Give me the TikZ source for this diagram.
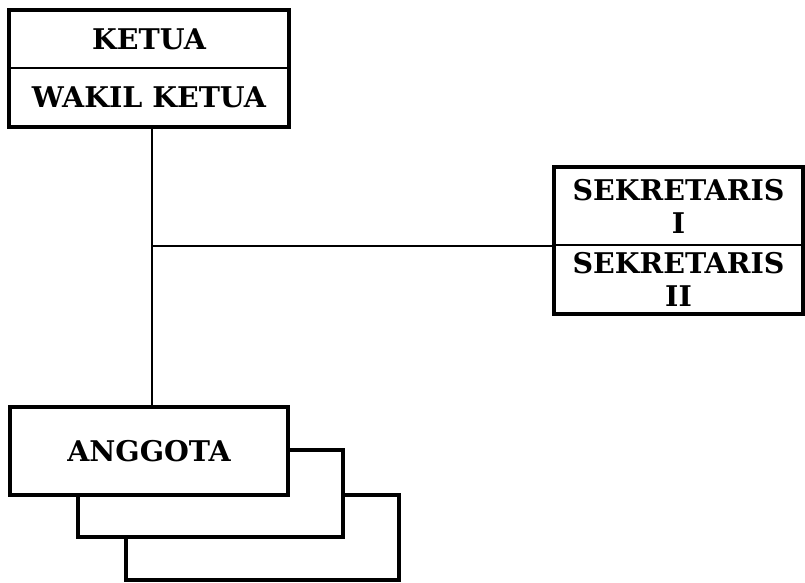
\documentclass[tikz,border=0pt]{standalone}
\usepackage{fontspec}
\setmainfont{DejaVu Serif}
\usepackage{tikz}
\tikzstyle{postBox}=[shape = rectangle, draw, line width = 2.4pt, inner sep = 0pt, font = \fontsize{28.5}{33}\selectfont\bfseries, align = center]
\tikzstyle{outerBox}=[draw, line width = 3.4pt]

\begin{document}
\begin{tikzpicture}[x = 1pt, y = -1pt]
\tikzstyle{memberBox}=[shape = rectangle, draw, line width = 3.4pt, fill = white, inner sep = 0pt]
\tikzstyle{linkStyle}=[draw, line width = 2.4pt]
\useasboundingbox (0,0) rectangle (805,582);
% ketua
\node[postBox, minimum width = 278pt, minimum height = 57pt] (ketua) at (149,39.5) {KETUA};
\node[postBox, minimum width = 278pt, minimum height = 58pt] (wakil) at (149,97) {WAKIL KETUA};
\draw[outerBox] (ketua.north west) rectangle (wakil.south east);
% sekretaris
\node[postBox, minimum width = 247pt, minimum height = 77pt] (sekI) at (678.5,206.5) {SEKRETARIS\\I};
\node[postBox, minimum width = 247pt, minimum height = 68pt] (sekII) at (678.5,279) {SEKRETARIS\\II};
\draw[outerBox] (sekI.north west) rectangle (sekII.south east);
% anggota
\node[memberBox, minimum width = 273pt, minimum height = 85pt] (anggotaC) at (262.5,537.5) {};
\node[memberBox, minimum width = 265pt, minimum height = 87pt] (anggotaB) at (210.5,493.5) {};
\node[memberBox, minimum width = 278pt, minimum height = 88pt, font = \fontsize{28.5}{33}\selectfont\bfseries] (anggota) at (149,451) {ANGGOTA};
\coordinate (top) at ([xshift = 3pt]wakil.south);
\coordinate (joint) at (top |- sekI.south west);
\draw[linkStyle] (top) -- (top |- anggota.north);
\draw[linkStyle] (joint) -- (sekI.south west);
\end{tikzpicture}
\end{document}
